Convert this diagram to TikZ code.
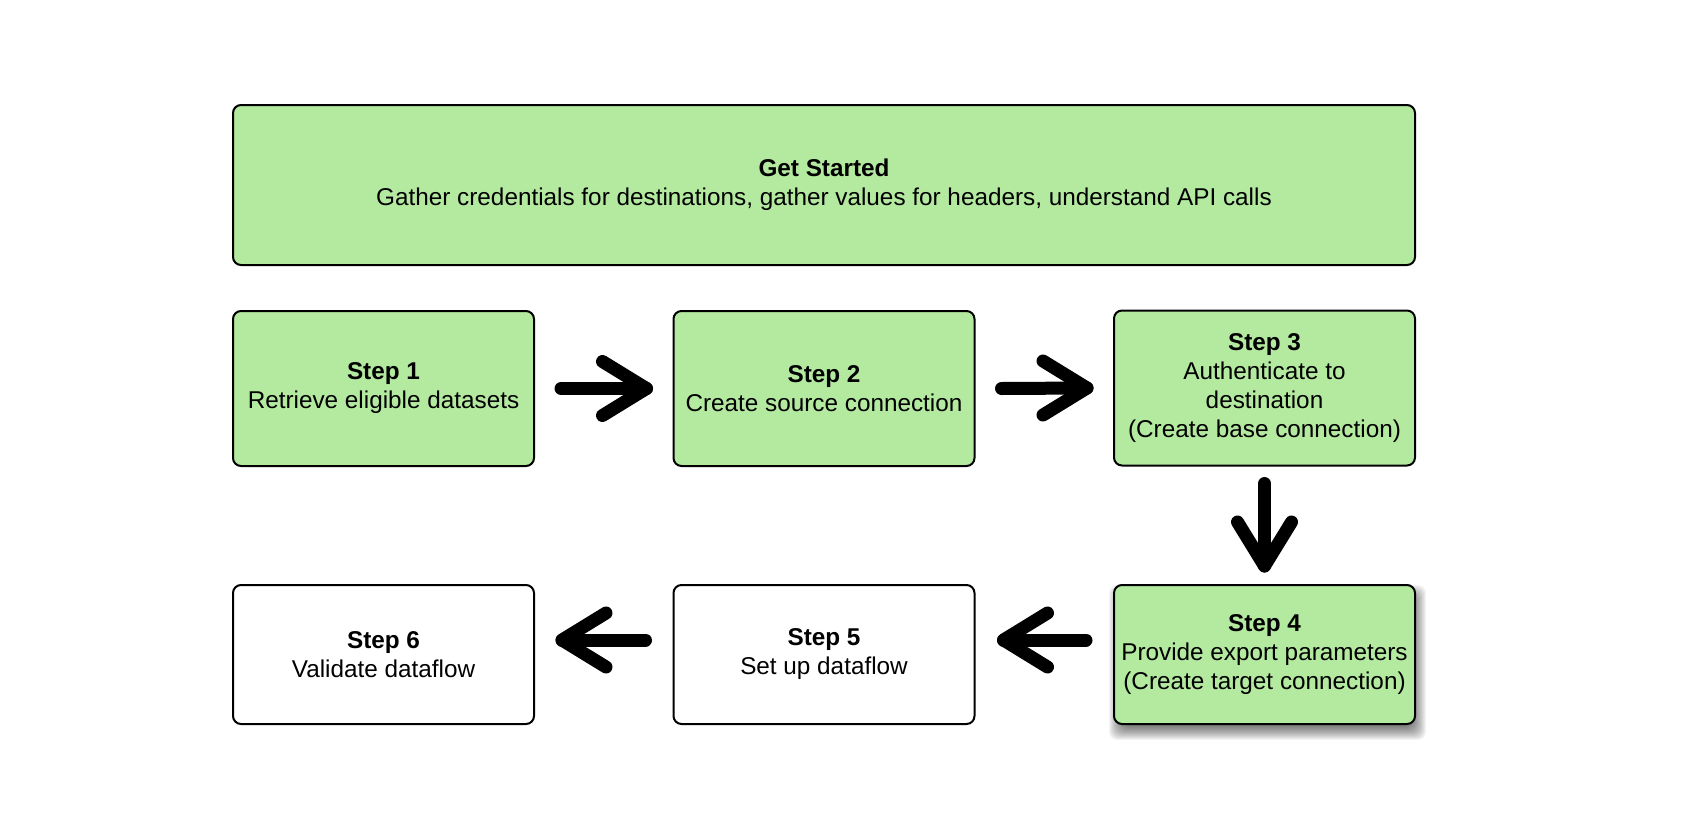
\documentclass[tikz,border=0pt]{standalone}
\usepackage{fontspec}
\setmainfont{Liberation Sans}
\usetikzlibrary{calc}
\definecolor{boxgreen}{RGB}{180,234,160}
\tikzset{
  box/.style={draw=black, line width=2pt, rounded corners=8pt, align=center,
    font=\fontsize{24.3}{29}\selectfont, inner sep=0pt},
  greenbox/.style={box, fill=boxgreen},
  whitebox/.style={box, fill=white},
  conn/.style={draw=black, line width=13pt, line cap=round, line join=round},
  shadowlayer/.style={fill=black, opacity=0.045, rounded corners=8pt},
}
\newcommand{\chevR}[1]{\draw[conn] ($(#1)+(-44,-27)$) -- (#1) -- ($(#1)+(-44,27)$);}
\newcommand{\chevL}[1]{\draw[conn] ($(#1)+(44,-27)$) -- (#1) -- ($(#1)+(44,27)$);}
\newcommand{\chevD}[1]{\draw[conn] ($(#1)+(-27,-44)$) -- (#1) -- ($(#1)+(27,-44)$);}
\begin{document}
\begin{tikzpicture}[x=1pt,y=-1pt]
\useasboundingbox[fill=white] (0,0) rectangle (1683,817);
% soft shadow of step 4
\foreach \r in {-8,...,8}
  \fill[shadowlayer] (1117-\r, 593-\r) rectangle (1418+\r, 732+\r);
\node[greenbox, minimum width=1182pt, minimum height=160pt] (gs) at (824,185)
  {\textbf{Get Started}\\Gather credentials for destinations, gather values for headers, understand API calls};
\node[greenbox, minimum width=301pt, minimum height=155pt] (s1) at (383.5,388.5)
  {\textbf{Step 1}\\Retrieve eligible datasets};
\node[greenbox, minimum width=301pt, minimum height=155pt] (s2) at (824,388.5)
  {\textbf{Step 2}\\Create source connection};
\node[greenbox, minimum width=301pt, minimum height=155pt] (s3) at (1264.5,388)
  {\textbf{Step 3}\\Authenticate to\\destination\\(Create base connection)};
\node[greenbox, minimum width=301pt, minimum height=139pt] (s4) at (1264.5,654.5)
  {\textbf{Step 4}\\Provide export parameters\\(Create target connection)};
\node[whitebox, minimum width=301pt, minimum height=139pt] (s5) at (824,654.5)
  {\textbf{Step 5}\\Set up dataflow};
\node[whitebox, minimum width=301pt, minimum height=139pt] (s6) at (383.5,654.5)
  {\textbf{Step 6}\\Validate dataflow};
% connectors
\coordinate (t12) at ($(s2.west)+(-26,0)$);
\draw[conn] ($(s1.east)+(26,0)$) -- (t12);
\chevR{t12}
\coordinate (t23) at ($(s3.west)+(-26,0)$);
\draw[conn] ($(s2.east)+(26,0)$) -- (t23);
\chevR{t23}
\coordinate (t34) at ($(s4.north)+(0,-18)$);
\draw[conn] ($(s3.south)+(0,17)$) -- (t34);
\chevD{t34}
\coordinate (t45) at ($(s5.east)+(28,-14.5)$);
\draw[conn] ($(s4.west)+(-27,-14.5)$) -- (t45);
\chevL{t45}
\coordinate (t56) at ($(s6.east)+(27,-14.5)$);
\draw[conn] ($(s5.west)+(-27,-14.5)$) -- (t56);
\chevL{t56}
\end{tikzpicture}
\end{document}
